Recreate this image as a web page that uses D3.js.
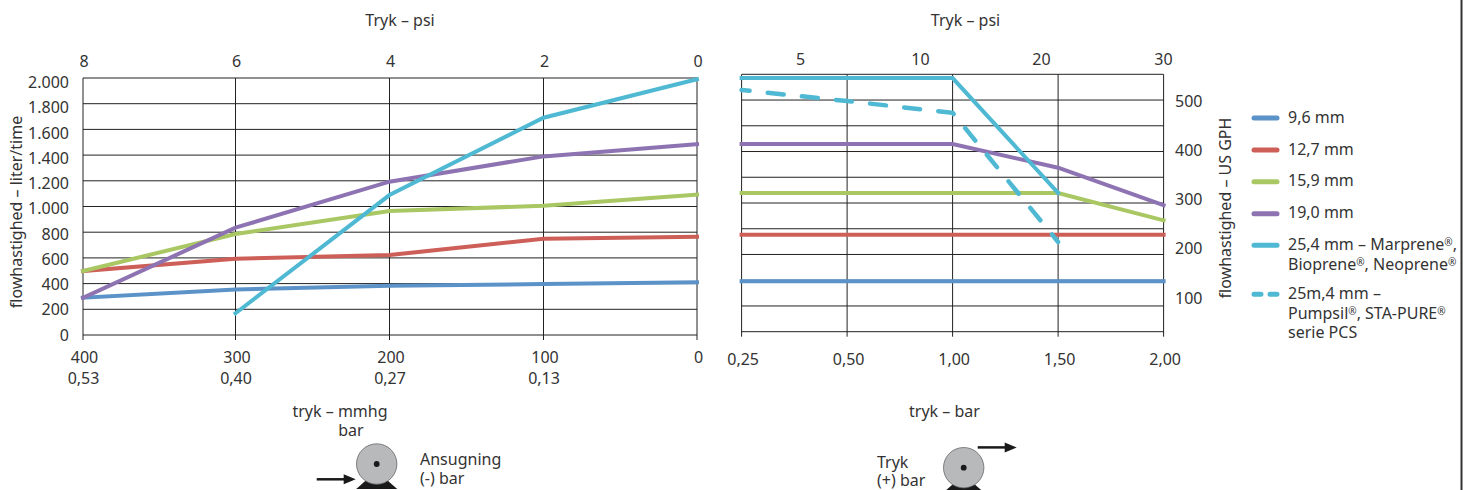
<!DOCTYPE html>
<html>
<head>
<meta charset="utf-8">
<script src="https://cdn.jsdelivr.net/npm/d3@7"></script>
<style>
  html, body { margin: 0; padding: 0; background: #fff; }
  svg { display: block; }
  text { font-family: "Noto Sans", sans-serif; font-size: 16px; fill: #333; }
  .axis path.domain { display: none; }
  .axis line { display: none; }
</style>
</head>
<body>
<svg id="chart" width="1470" height="490"></svg>
<script>
// suction side (left chart)
const suctionMmhg = [400, 300, 200, 100, 0];
const suctionBar = ['0,53', '0,40', '0,27', '0,13'];
const suctionPsi = ['8', '6', '4', '2', '0'];
const flowTicks = [0, 200, 400, 600, 800, 1000, 1200, 1400, 1600, 1800, 2000];
const flowLabels = ['0', '200', '400', '600', '800', '1.000', '1.200', '1.400', '1.600', '1.800', '2.000'];

const suction96 = [290, 355, 383, 397, 410];
const suction127 = [498, 594, 622, 749, 765];
const suction159 = [498, 786, 965, 1006, 1092];
const suction190 = [290, 835, 1193, 1390, 1486];
const suction254 = [null, 169, 1089, 1691, 1990];

// pressure side (right chart)
const pressureBar = ['0,25', '0,50', '1,00', '1,50', '2,00'];
const pressure96 = [392, 392, 392, 392, 392];
const pressure127 = [754, 754, 754, 754, 754];
const pressure159 = [1078, 1078, 1078, 1078, 865];
const pressure190 = [1458, 1458, 1458, 1274, 982];
const pressure254 = [1971, 1971, 1971, 1078, null];
const pressure254Dash = [1878, 1792, 1701, 697, null];
const psiTicks = [5, 10, 20, 30];
const gphTicks = [100, 200, 300, 400, 500];

const legendLabels = [
    ['9,6 mm'],
    ['12,7 mm'],
    ['15,9 mm'],
    ['19,0 mm'],
    ['25,4 mm – Marprene®,', 'Bioprene®, Neoprene®'],
    ['25m,4 mm –', 'Pumpsil®, STA-PURE®', 'serie PCS']
];

const svg = d3.select('svg#chart');

const colors = { blue: '#5b93c9', red: '#cd5f58', green: '#a9c763', purple: '#8e73b2', cyan: '#4fb9d3' };
const lineWidth = 4,
    gridColor = '#222',
    tickLength = 5;

const leftX = d3.scaleLinear().domain(suctionMmhg).range([83, 235.5, 389.5, 543.5, 697]);
const leftY = d3.scaleLinear().domain([0, 2000]).range([335, 78]);
const leftLabelY = d3.scaleLinear().domain([0, 2000]).range([335, 82.5]);
const rightX = d3.scalePoint().domain(pressureBar).range([741.6, 1163.6]);
const rightY = d3.scaleLinear().domain([0, 2000]).range([331.7, 74.3]);
const psiX = d3.scaleLinear().domain(psiTicks).range([800, 920, 1041, 1163]);
const gphY = d3.scaleLinear().domain([100, 500]).range([298, 101]);

const legendColors = [colors.blue, colors.red, colors.green, colors.purple, colors.cyan, colors.cyan];
const legendY = [118, 150, 181.7, 213.7, 245.3, 294.3];

// page frame edge on the right of the picture
svg.append('line')
    .attr('x1', 1461.5).attr('x2', 1461.5).attr('y1', 0).attr('y2', 490)
    .attr('stroke', '#333').attr('stroke-width', 2);

drawGrid(leftX, suctionMmhg, leftY, flowTicks, 335);
drawGrid(rightX, pressureBar, rightY, flowTicks, 331.7);
drawAxes();
drawSeries();
drawLegend();
drawPump(376.7, 464, false);
drawPump(963.7, 467.7, true);
drawLabels();

function drawGrid(x, xValues, y, yValues, bottom) {
    const g = svg.append('g');
    xValues.forEach(v => {
        g.append('line')
            .attr('x1', x(v)).attr('x2', x(v))
            .attr('y1', y(2000)).attr('y2', bottom + tickLength)
            .attr('stroke', gridColor).attr('stroke-width', 1);
    });
    yValues.forEach(v => {
        g.append('line')
            .attr('x1', x(xValues[0])).attr('x2', x(xValues[xValues.length - 1]))
            .attr('y1', y(v)).attr('y2', y(v))
            .attr('stroke', gridColor).attr('stroke-width', 1);
    });
}

function drawAxes() {
    svg.append('g').attr('class', 'axis')
        .attr('transform', 'translate(74,0)')
        .call(d3.axisLeft(leftLabelY).tickValues(flowTicks).tickSize(0).tickPadding(5)
            .tickFormat((d, i) => flowLabels[i]));

    svg.append('g').attr('class', 'axis')
        .attr('transform', 'translate(1,351.6)')
        .call(d3.axisBottom(leftX).tickValues(suctionMmhg).tickSize(0).tickPadding(0));

    svg.append('g').attr('class', 'axis')
        .attr('transform', 'translate(0,372.6)')
        .call(d3.axisBottom(leftX).tickValues(suctionMmhg.slice(0, 4)).tickSize(0).tickPadding(0)
            .tickFormat((d, i) => suctionBar[i]));

    svg.append('g').attr('class', 'axis')
        .attr('transform', 'translate(0.5,66.5)')
        .call(d3.axisTop(leftX).tickValues(suctionMmhg).tickSize(0).tickPadding(0)
            .tickFormat((d, i) => suctionPsi[i]));

    svg.append('g').attr('class', 'axis')
        .attr('transform', 'translate(1,353.6)')
        .call(d3.axisBottom(rightX).tickSize(0).tickPadding(0));

    svg.append('g').attr('class', 'axis')
        .attr('transform', 'translate(0,64.5)')
        .call(d3.axisTop(psiX).tickValues(psiTicks).tickSize(0).tickPadding(0));

    svg.append('g').attr('class', 'axis')
        .attr('transform', 'translate(1175,0)')
        .call(d3.axisRight(gphY).tickValues(gphTicks).tickSize(0).tickPadding(0));
}

function drawSeries() {
    const leftLine = d3.line()
        .defined(d => d.v !== null)
        .x(d => leftX(d.x)).y(d => leftY(d.v));
    const rightLine = d3.line()
        .defined(d => d.v !== null)
        .x(d => rightX(d.x)).y(d => rightY(d.v));

    const leftSeries = [
        [suction96, colors.blue], [suction127, colors.red], [suction159, colors.green],
        [suction190, colors.purple], [suction254, colors.cyan]
    ];
    leftSeries.forEach(s => {
        svg.append('path')
            .attr('d', leftLine(s[0].map((v, i) => ({ x: suctionMmhg[i], v: v }))))
            .attr('fill', 'none').attr('stroke', s[1]).attr('stroke-width', lineWidth)
            .attr('stroke-linecap', 'square');
    });

    const rightSeries = [
        [pressure96, colors.blue], [pressure127, colors.red], [pressure159, colors.green],
        [pressure190, colors.purple], [pressure254, colors.cyan]
    ];
    rightSeries.forEach(s => {
        svg.append('path')
            .attr('d', rightLine(s[0].map((v, i) => ({ x: pressureBar[i], v: v }))))
            .attr('fill', 'none').attr('stroke', s[1]).attr('stroke-width', lineWidth)
            .attr('stroke-linecap', 'square');
    });

    svg.append('path')
        .attr('d', rightLine(pressure254Dash.map((v, i) => ({ x: pressureBar[i], v: v }))))
        .attr('fill', 'none').attr('stroke', colors.cyan).attr('stroke-width', lineWidth + 0.5)
        .attr('stroke-linecap', 'round')
        .attr('stroke-dasharray', '16 18.3').attr('stroke-dashoffset', 8);
}

function drawLegend() {
    legendLabels.forEach((rows, i) => {
        const y = legendY[i];
        svg.append('line')
            .attr('x1', 1254).attr('x2', 1277).attr('y1', y).attr('y2', y)
            .attr('stroke', legendColors[i]).attr('stroke-width', 5)
            .attr('stroke-linecap', 'round')
            .attr('stroke-dasharray', i === 5 ? '7 9' : null);
        rows.forEach((row, r) => {
            const text = svg.append('text')
                .attr('x', 1288).attr('y', y + r * 19.7 + 4.5);
            appendRegistered(text, row);
        });
    });
}

// small raised registered marks
function appendRegistered(text, row) {
    let raised = false;
    row.split(/(®)/).filter(part => part !== '').forEach(part => {
        if (part === '®') {
            text.append('tspan').text(part).style('font-size', '10px').attr('dy', -4);
            raised = true;
        } else {
            text.append('tspan').text(part).attr('dy', raised ? 4 : 0);
            raised = false;
        }
    });
}

function drawPump(cx, cy, pressure) {
    const g = svg.append('g');
    g.append('path')
        .attr('d', `M${cx - 20.5},${cy + 25} L${cx - 8},${cy + 14} L${cx + 8},${cy + 14} L${cx + 20.5},${cy + 25} Z`)
        .attr('fill', '#1a1a1a');
    g.append('circle').attr('cx', cx).attr('cy', cy).attr('r', 20.2)
        .attr('fill', '#b8b9bb').attr('stroke', '#666').attr('stroke-width', 0.8);
    g.append('circle').attr('cx', cx).attr('cy', cy).attr('r', 2.9).attr('fill', '#1a1a1a');

    const ax = pressure ? cx + 14 : cx - 60;
    const ay = pressure ? cy - 20.3 : cy + 15.3;
    g.append('line').attr('x1', ax).attr('x2', ax + 28).attr('y1', ay).attr('y2', ay)
        .attr('stroke', '#1a1a1a').attr('stroke-width', 2.5);
    g.append('path')
        .attr('d', `M${ax + 27},${ay - 5} L${ax + 39},${ay} L${ax + 27},${ay + 5} Z`)
        .attr('fill', '#1a1a1a');
}

function drawLabels() {
    const labels = [
        ['Tryk – psi', 400, 26, 'middle'],
        ['Tryk – psi', 965.5, 26, 'middle'],
        ['tryk – mmhg', 340, 416.7, 'middle'],
        ['bar', 351, 435.5, 'middle'],
        ['tryk – bar', 944.5, 416.7, 'middle'],
        ['Ansugning', 420, 465, 'start'],
        ['(-) bar', 420, 484, 'start'],
        ['Tryk', 877, 467.5, 'start'],
        ['(+) bar', 877, 486, 'start']
    ];
    labels.forEach(l => {
        svg.append('text').text(l[0])
            .attr('x', l[1]).attr('y', l[2]).attr('text-anchor', l[3]);
    });

    svg.append('text').text('flowhastighed – liter/time')
        .attr('transform', 'translate(21.5,212) rotate(-90)').attr('text-anchor', 'middle');
    svg.append('text').text('flowhastighed – US GPH')
        .attr('transform', 'translate(1231,208) rotate(-90)').attr('text-anchor', 'middle');
}
</script>
</body>
</html>
